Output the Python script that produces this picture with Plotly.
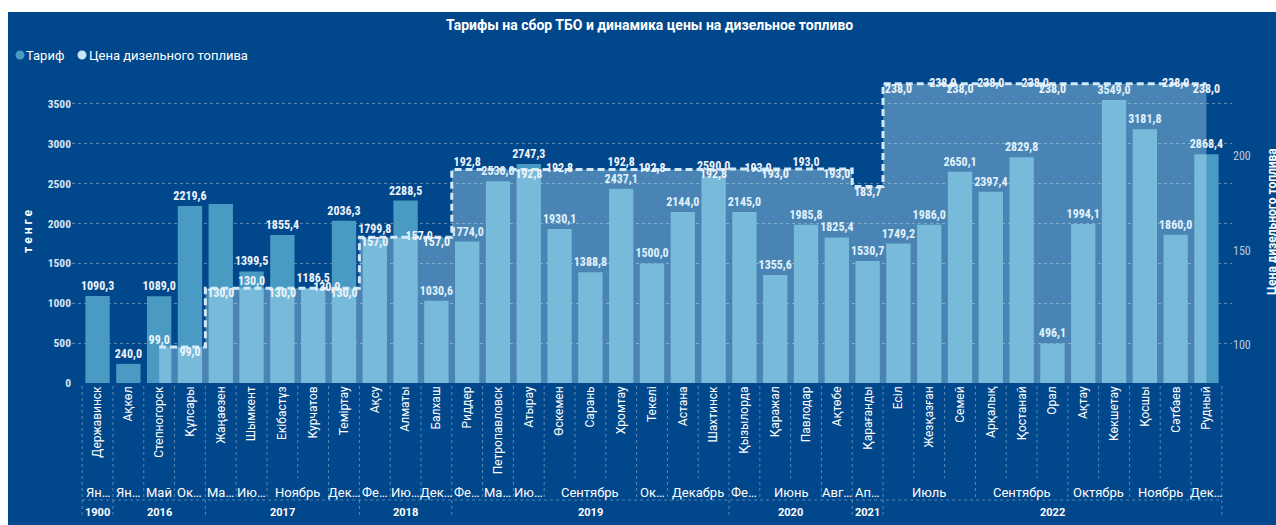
import plotly.graph_objects as go

# ---------------- data ----------------
cities = ["Державинск", "Ақкөл", "Степногорск", "Құлсары", "Жаңаөзен", "Шымкент",
          "Екібастұз", "Курчатов", "Теміртау", "Ақсу", "Алматы", "Балхаш", "Риддер",
          "Петропавловск", "Атырау", "Өскемен", "Сарань", "Хромтау", "Текелі", "Астана",
          "Шахтинск", "Қызылорда", "Қаражал", "Павлодар", "Ақтөбе", "Қарағанды", "Есіл",
          "Жезқазған", "Семей", "Арқалық", "Қостанай", "Орал", "Ақтау", "Көкшетау",
          "Қосшы", "Сәтбаев", "Рудный"]

months = ["Ян…", "Ян…", "Май", "Ок…", "Ма…", "Ию…", "Ноябрь", "Ноябрь", "Дек…",
          "Фе…", "Ию…", "Дек…", "Фе…", "Ма…", "Ию…", "Сентябрь", "Сентябрь", "Сентябрь",
          "Ок…", "Декабрь", "Декабрь", "Фе…", "Июнь", "Июнь", "Авг…", "Ап…",
          "Июль", "Июль", "Июль", "Сентябрь", "Сентябрь", "Сентябрь",
          "Октябрь", "Октябрь", "Ноябрь", "Ноябрь", "Дек…"]

years = ["1900", "2016", "2016", "2016", "2017", "2017", "2017", "2017", "2017",
         "2018", "2018", "2018", "2019", "2019", "2019", "2019", "2019", "2019", "2019",
         "2019", "2019", "2020", "2020", "2020", "2020", "2021",
         "2022", "2022", "2022", "2022", "2022", "2022", "2022", "2022", "2022", "2022", "2022"]

tariff = [1090.3, 240.0, 1089.0, 2219.6, 2245.0, 1399.5, 1855.4, 1186.5, 2036.3,
          1799.8, 2288.5, 1030.6, 1774.0, 2530.0, 2747.3, 1930.1, 1388.8, 2437.1,
          1500.0, 2144.0, 2590.0, 2145.0, 1355.6, 1985.8, 1825.4, 1530.7, 1749.2,
          1986.0, 2650.1, 2397.4, 2829.8, 496.1, 1994.1, 3549.0, 3181.8, 1860.0, 2868.4]

diesel = [None, None, 99.0, 99.0, 130.0, 130.0, 130.0, 130.0, 130.0,
          157.0, 157.0, 157.0, 192.8, 192.8, 192.8, 192.8, 192.8, 192.8, 192.8,
          192.8, 192.8, 193.0, 193.0, 193.0, 193.0, 183.7,
          238.0, 238.0, 238.0, 238.0, 238.0, 238.0, 238.0, 238.0, 238.0, 238.0, 238.0]

left_ticks = [0, 500, 1000, 1500, 2000, 2500, 3000, 3500]
right_ticks = [100, 150, 200]
series_names = ["Тариф", "Цена дизельного топлива"]

# ---------------- label styling (which labels Power BI kept) ----------------
tariff_label_shown = [True] * len(tariff)
tariff_label_shown[4] = False
diesel_label_pos = [None, None, "top center", "bottom center", "bottom center", "top center",
                    "bottom center", "middle right", "bottom center", "bottom center",
                    "middle right", "bottom center", "top center", None, "bottom center",
                    "middle center", None, "top center", "middle center", None,
                    "bottom center", "middle right", "bottom center", "top center",
                    "bottom center", "bottom center", "bottom center", "middle right",
                    "bottom center", "middle center", "middle right", "bottom center",
                    None, None, None, "middle center", "bottom center"]


def fmt(v):
    return f"{v:.1f}".replace(".", ",")


tariff_text = [fmt(v) if s else "" for v, s in zip(tariff, tariff_label_shown)]
diesel_text = [fmt(v) if (v is not None and p) else "" for v, p in zip(diesel, diesel_label_pos)]
diesel_pos = [p if p else "top center" for p in diesel_label_pos]

# ---------------- layout geometry ----------------
W, H = 1276, 525
ML, MR, MT, MB = 72, 44, 80, 142
PW, PH = W - ML - MR, H - MT - MB


def px_x(px):
    return (px - ML) / PW


def px_y(py):
    return (H - MB - py) / PH


BG = "#01478B"
BAR = "#4A9BC4"
DOT2 = "#C8E8F8"
LINE = "#D2EAF8"
NUM_FONT = "'Liberation Sans Narrow', 'Roboto Condensed', Roboto, sans-serif"
TXT_FONT = "Roboto, 'Liberation Sans', sans-serif"
GRID = "rgba(255,255,255,0.35)"

fig = go.Figure()
fig.add_trace(go.Bar(
    x=cities, y=tariff, name=series_names[0], marker=dict(color=BAR, line=dict(width=0)),
    text=tariff_text, textposition="outside", constraintext="none", cliponaxis=False,
    textfont=dict(family=NUM_FONT, size=12, color="#EEF4FA", weight="bold"),
    showlegend=False,
))
fig.add_trace(go.Scatter(
    x=cities, y=diesel, name=series_names[1], yaxis="y2",
    mode="lines+text", line=dict(color=LINE, width=3, dash="7px,4px", shape="hvh"),
    fill="tozeroy", fillcolor="rgba(198,238,255,0.37)", connectgaps=False,
    text=diesel_text, textposition=diesel_pos, cliponaxis=False,
    textfont=dict(family=NUM_FONT, size=12, color="#EEF4FA", weight="bold"),
    showlegend=False,
))

shapes = []
n = len(cities)
for b in range(n + 1):
    if b == 0 or b == n or years[b] != years[b - 1]:
        bottom = 518
    elif months[b] != months[b - 1]:
        bottom = 500
    else:
        bottom = 478
    shapes.append(dict(type="line", xref="x", yref="paper", x0=b - 0.5, x1=b - 0.5,
                       y0=px_y(386), y1=px_y(bottom),
                       line=dict(color=GRID, width=1, dash="dot")))
shapes.append(dict(type="line", xref="x", yref="paper", x0=-0.5, x1=n - 0.5,
                   y0=px_y(500), y1=px_y(500), line=dict(color=GRID, width=1, dash="dot")))
# legend dots
for cx, col in [(20, BAR), (82, DOT2)]:
    shapes.append(dict(type="circle", xref="paper", yref="paper",
                       x0=px_x(cx - 4.5), x1=px_x(cx + 4.5), y0=px_y(59.5), y1=px_y(50.5),
                       fillcolor=col, line=dict(width=0)))
# white page border (top and left) as in the screenshot
shapes.append(dict(type="rect", xref="paper", yref="paper", x0=px_x(0), x1=px_x(W),
                   y0=px_y(12), y1=px_y(0), fillcolor="white", line=dict(width=0), layer="above"))
shapes.append(dict(type="rect", xref="paper", yref="paper", x0=px_x(0), x1=px_x(8),
                   y0=px_y(H), y1=px_y(0), fillcolor="white", line=dict(width=0), layer="above"))

annotations = []
# month groups
i = 0
while i < n:
    j = i
    while j + 1 < n and months[j + 1] == months[i] and years[j + 1] == years[i]:
        j += 1
    annotations.append(dict(x=(i + j) / 2, y=px_y(492), xref="x", yref="paper",
                            xanchor="center", yanchor="middle",
                            text=months[i], showarrow=False,
                            font=dict(family=TXT_FONT, size=13, color="white")))
    i = j + 1
# year groups
i = 0
while i < n:
    j = i
    while j + 1 < n and years[j + 1] == years[i]:
        j += 1
    annotations.append(dict(x=(i + j) / 2, y=px_y(512), xref="x", yref="paper",
                            xanchor="center", yanchor="middle",
                            text=years[i], showarrow=False,
                            font=dict(family=TXT_FONT, size=11, color="white", weight="bold")))
    i = j + 1
# title
annotations.append(dict(x=px_x(649), y=px_y(25), xref="paper", yref="paper",
                        xanchor="center", yanchor="middle",
                        text="Тарифы на сбор ТБО и динамика цены на дизельное топливо",
                        showarrow=False,
                        font=dict(family=TXT_FONT, size=14, color="white", weight="bold")))
# legend texts
for lx, name in [(24, series_names[0]), (87, series_names[1])]:
    annotations.append(dict(x=px_x(lx), y=px_y(55), xref="paper", yref="paper",
                            xanchor="left", yanchor="middle", text=name, showarrow=False,
                            font=dict(family=TXT_FONT, size=13, color="white")))
# right axis title (sits at the very edge, as in the screenshot)
annotations.append(dict(x=px_x(1272), y=px_y(222), xref="paper", yref="paper",
                        xanchor="center", yanchor="middle", textangle=-90,
                        text=series_names[1], showarrow=False,
                        font=dict(family=TXT_FONT, size=12, color="white", weight="bold")))

fig.update_layout(
    width=W, height=H, margin=dict(l=ML, r=MR, t=MT, b=MB, autoexpand=False),
    paper_bgcolor=BG, plot_bgcolor=BG, bargap=0.21,
    font=dict(family=TXT_FONT, color="white"),
    xaxis=dict(type="category", range=[-0.83, n - 0.17], tickangle=-90, showgrid=False,
               zeroline=False, showline=False, ticks="", automargin=False,
               tickfont=dict(family=TXT_FONT, size=12, color="white")),
    yaxis=dict(range=[0, 3800], tickvals=left_ticks, showgrid=True, gridcolor=GRID,
               griddash="dot", gridwidth=1, zeroline=False, showline=False, automargin=False,
               tickfont=dict(family=NUM_FONT, size=11.5, color="#DCE5EF", weight="bold"),
               title=dict(text="т е н г е", standoff=12,
                          font=dict(family=TXT_FONT, size=12, color="white", weight="bold"))),
    yaxis2=dict(overlaying="y", side="right", range=[80, 240], tickvals=right_ticks,
                showgrid=False, zeroline=False, showline=False, automargin=False,
                tickfont=dict(family=NUM_FONT, size=12, color="#B8C9DD")),
    shapes=shapes, annotations=annotations,
)

fig.write_html("out.html", config={"displayModeBar": False},
               post_script="document.body.style.margin='0';document.body.style.overflow='hidden';")
